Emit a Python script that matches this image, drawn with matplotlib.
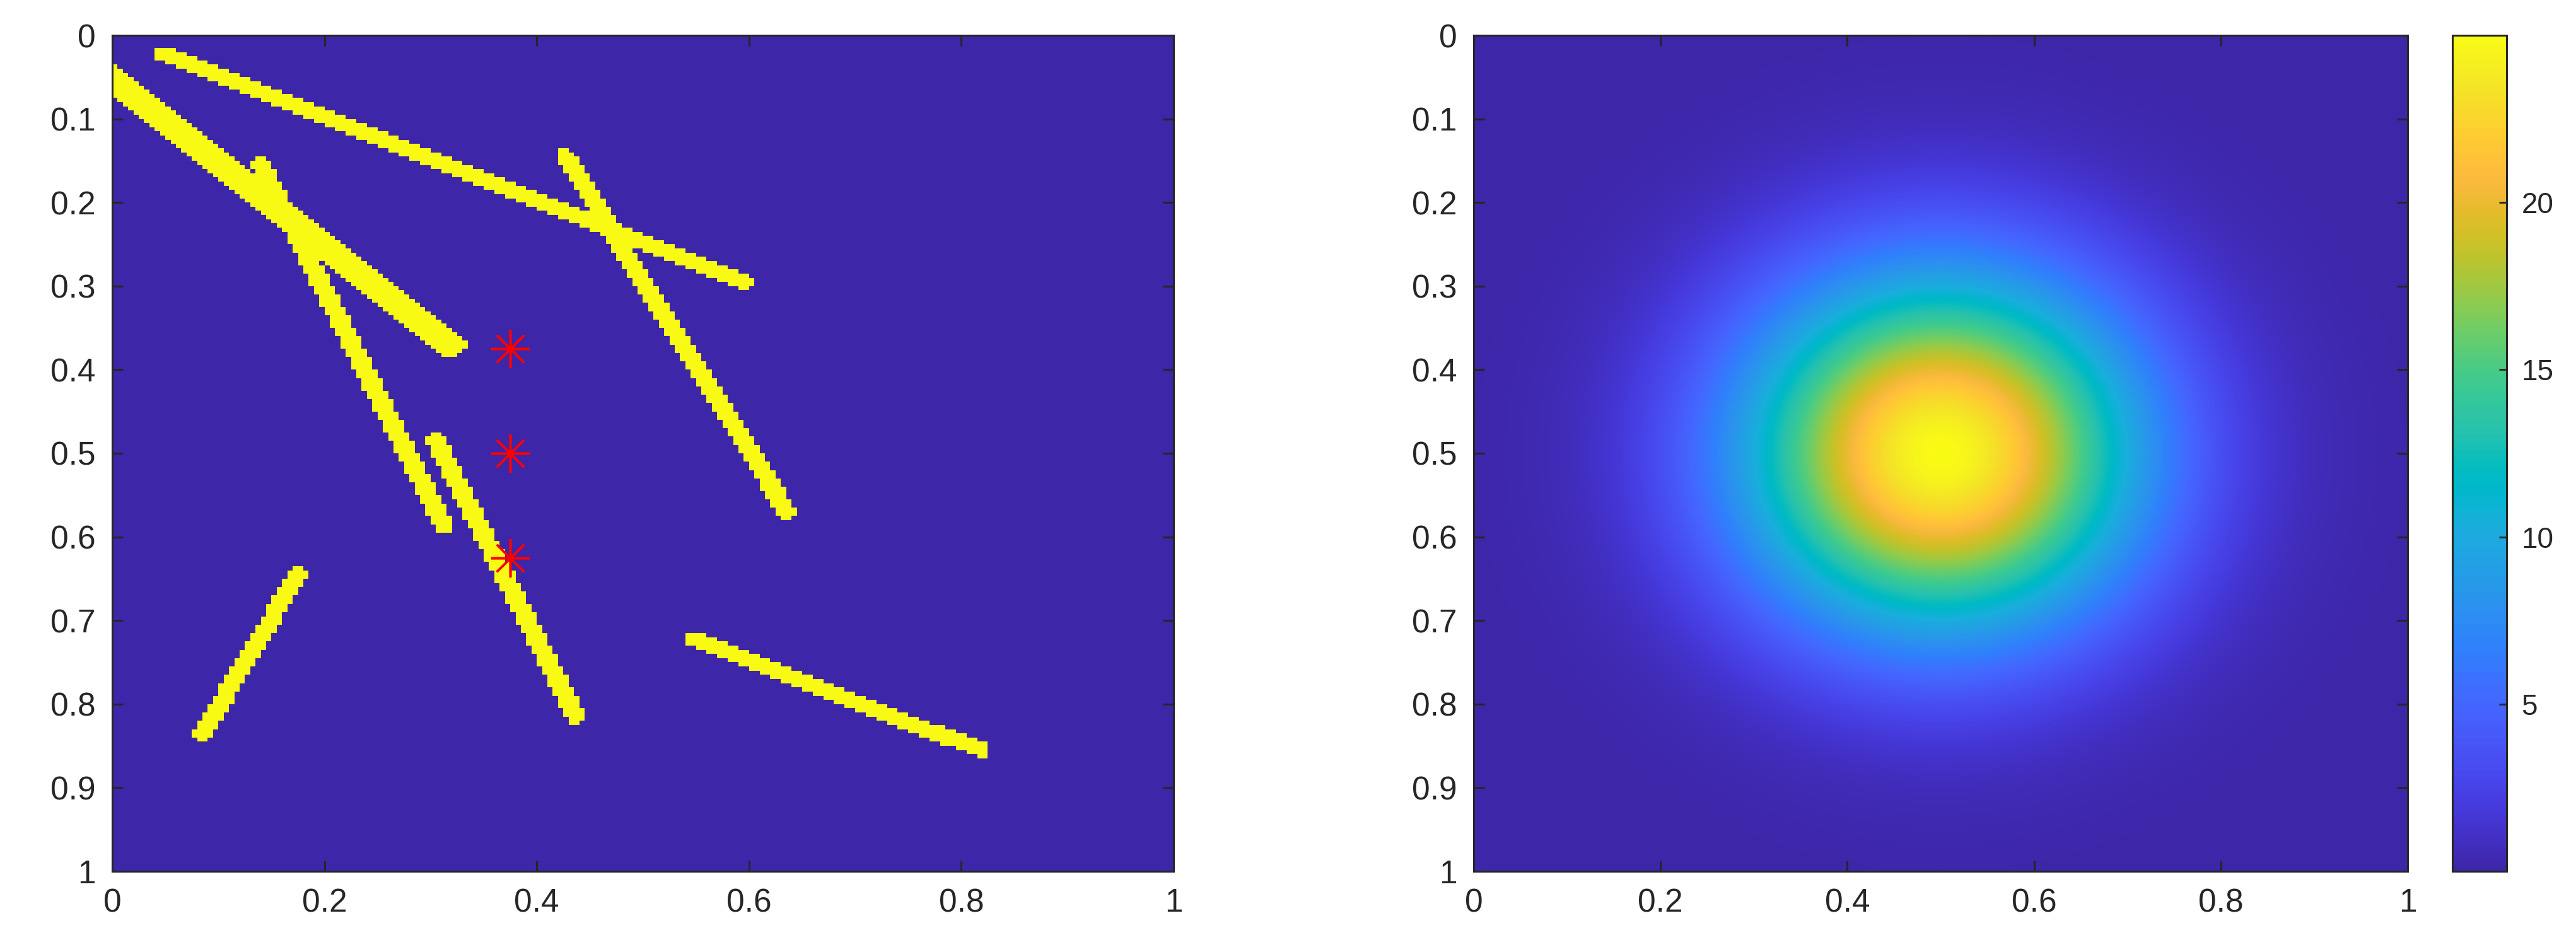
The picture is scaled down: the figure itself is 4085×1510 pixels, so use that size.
import numpy as np
import matplotlib
matplotlib.use("Agg")
import matplotlib.pyplot as plt
from matplotlib.colors import ListedColormap, LinearSegmentedColormap
from matplotlib.ticker import FixedLocator, FormatStrFormatter

plt.rcParams['font.family'] = ['Liberation Sans', 'DejaVu Sans']

# ---------------- data ----------------
# fracture segments (x1, y1, x2, y2) and half-apertures
frac_x1 = [0.047, -0.005, 0.140, 0.305, 0.427, 0.085, 0.548]
frac_y1 = [0.022, 0.048, 0.155, 0.485, 0.145, 0.835, 0.722]
frac_x2 = [0.595, 0.318, 0.313, 0.437, 0.636, 0.175, 0.818]
frac_y2 = [0.295, 0.370, 0.587, 0.815, 0.570, 0.645, 0.855]
frac_hw = [0.009, 0.015, 0.009, 0.009, 0.009, 0.009, 0.009]
grid_n = 200

# wells (red asterisks)
well_x = [0.375, 0.375, 0.375]
well_y = [0.375, 0.500, 0.625]

# source field parameters (right panel)
peak_value = 25.0
peak_x, peak_y = 0.5, 0.5
peak_sigma = 0.15
field_n = 400

x_ticks = [0, 0.2, 0.4, 0.6, 0.8, 1]
y_ticks = [0, 0.1, 0.2, 0.3, 0.4, 0.5, 0.6, 0.7, 0.8, 0.9, 1]
cbar_ticks = [5, 10, 15, 20]

# ---------------- parula colormap ----------------
parula_data = [
 [0.2422,0.1504,0.6603],[0.2504,0.1650,0.7076],[0.2578,0.1818,0.7511],[0.2647,0.1978,0.7952],
 [0.2706,0.2147,0.8364],[0.2751,0.2342,0.8710],[0.2783,0.2559,0.8991],[0.2803,0.2782,0.9221],
 [0.2813,0.3006,0.9414],[0.2810,0.3228,0.9579],[0.2795,0.3447,0.9717],[0.2760,0.3667,0.9829],
 [0.2699,0.3892,0.9906],[0.2602,0.4123,0.9952],[0.2440,0.4358,0.9988],[0.2206,0.4603,0.9973],
 [0.1963,0.4847,0.9892],[0.1834,0.5074,0.9798],[0.1786,0.5289,0.9682],[0.1764,0.5499,0.9520],
 [0.1687,0.5703,0.9359],[0.1540,0.5902,0.9218],[0.1460,0.6091,0.9079],[0.1380,0.6276,0.8973],
 [0.1248,0.6459,0.8883],[0.1113,0.6635,0.8763],[0.0952,0.6798,0.8598],[0.0689,0.6948,0.8394],
 [0.0297,0.7082,0.8163],[0.0036,0.7206,0.7917],[0.0067,0.7317,0.7660],[0.0433,0.7411,0.7394],
 [0.0964,0.7500,0.7120],[0.1408,0.7584,0.6842],[0.1717,0.7670,0.6554],[0.1938,0.7758,0.6251],
 [0.2161,0.7843,0.5923],[0.2470,0.7918,0.5567],[0.2906,0.7973,0.5188],[0.3406,0.8008,0.4789],
 [0.3909,0.8029,0.4354],[0.4456,0.8024,0.3909],[0.5044,0.7993,0.3480],[0.5616,0.7942,0.3045],
 [0.6174,0.7876,0.2612],[0.6720,0.7793,0.2227],[0.7242,0.7698,0.1910],[0.7738,0.7598,0.1646],
 [0.8203,0.7498,0.1535],[0.8634,0.7406,0.1596],[0.9035,0.7330,0.1774],[0.9393,0.7288,0.2100],
 [0.9728,0.7298,0.2394],[0.9956,0.7434,0.2371],[0.9970,0.7659,0.2199],[0.9952,0.7893,0.2028],
 [0.9892,0.8136,0.1885],[0.9786,0.8386,0.1766],[0.9676,0.8639,0.1643],[0.9610,0.8890,0.1537],
 [0.9597,0.9135,0.1423],[0.9628,0.9373,0.1265],[0.9691,0.9606,0.1064],[0.9769,0.9839,0.0805]]
parula = LinearSegmentedColormap.from_list('parula', parula_data, N=256)
binary_cmap = ListedColormap([parula_data[0], parula_data[-1]])

# ---------------- raster of fractures ----------------
c = (np.arange(grid_n) + 0.5) / grid_n
GX, GY = np.meshgrid(c, c)
mask = np.zeros_like(GX, dtype=bool)
for x1, y1, x2, y2, hw in zip(frac_x1, frac_y1, frac_x2, frac_y2, frac_hw):
    dx, dy = x2 - x1, y2 - y1
    t = ((GX - x1) * dx + (GY - y1) * dy) / (dx * dx + dy * dy)
    t = np.clip(t, 0, 1)
    d = np.hypot(GX - (x1 + t * dx), GY - (y1 + t * dy))
    mask |= d <= hw

# ---------------- field ----------------
f = np.linspace(0, 1, field_n)
FX, FY = np.meshgrid(f, f)
field = peak_value * np.exp(-((FX - peak_x) ** 2 + (FY - peak_y) ** 2) / (2 * peak_sigma ** 2))

# ---------------- figure ----------------
W, H = 4085, 1510
fig = plt.figure(figsize=(W / 100, H / 100), dpi=100)
dark = '#262626'
fs = 37

def px_axes(l, t, r, b):
    return fig.add_axes([l / W, 1 - b / H, (r - l) / W, (b - t) / H])

def style(ax):
    ax.set_xlim(0, 1)
    ax.set_ylim(1, 0)
    ax.xaxis.set_major_locator(FixedLocator(x_ticks))
    ax.yaxis.set_major_locator(FixedLocator(y_ticks))
    ax.xaxis.set_major_formatter(FormatStrFormatter('%g'))
    ax.yaxis.set_major_formatter(FormatStrFormatter('%g'))
    ax.tick_params(direction='in', length=12, width=2.2, color=dark,
                   top=True, right=True, labelsize=fs, labelcolor=dark, pad=19)
    for s in ax.spines.values():
        s.set_linewidth(2.2)
        s.set_color(dark)

ax1 = px_axes(178, 56, 1861, 1382)
ax1.imshow(mask.astype(float), cmap=binary_cmap, vmin=0, vmax=1,
           extent=(0, 1, 1, 0), interpolation='nearest', aspect='auto')
ax1.plot(well_x, well_y, linestyle='none', marker=(8, 2, 0), markersize=44,
         markeredgewidth=2.6, color='red')
style(ax1)

ax2 = px_axes(2337, 56, 3818, 1382)
im = ax2.imshow(field, cmap=parula, extent=(0, 1, 1, 0), interpolation='bilinear',
                aspect='auto', vmin=field.min(), vmax=field.max())
style(ax2)

cax = px_axes(3889, 56, 3975, 1382)
cb = fig.colorbar(im, cax=cax)
cb.set_ticks(cbar_ticks)
cb.ax.tick_params(direction='in', length=9, width=2.0, color=dark,
                  labelsize=33, labelcolor=dark, pad=17)
cb.outline.set_linewidth(2.2)
cb.outline.set_edgecolor(dark)

fig.savefig('out.png', dpi=100)
